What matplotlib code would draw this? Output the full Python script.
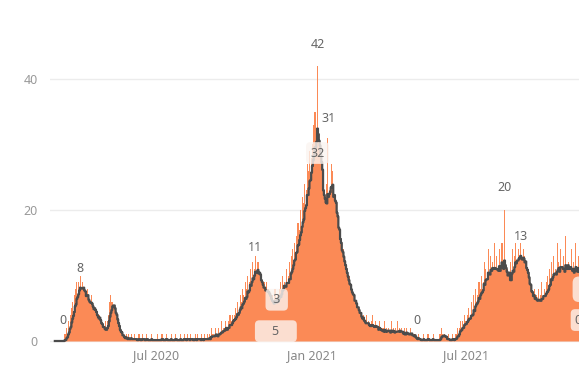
import matplotlib
matplotlib.use("Agg")
import matplotlib.pyplot as plt
import numpy as np
import pandas as pd

plt.rcParams['font.family'] = ['Noto Sans', 'DejaVu Sans']

# daily cases, one list per month (first list starts 4 Mar 2020)
mar_2020 = [0]*12 + [1, 0, 2, 1, 3, 2, 4, 3, 5, 6, 4, 7, 8, 6, 9, 7]
apr_2020 = [9, 8, 10, 7, 6, 9, 8, 6, 7, 5, 8, 6, 4, 6, 5, 7, 4, 5, 3, 5, 4, 3, 4, 2, 3, 4, 2, 1, 2, 1]
may_2020 = [2, 1, 3, 2, 3, 4, 6, 7, 5, 6, 6, 4, 4, 3, 2, 3, 1, 2, 1, 0, 1, 1, 0, 1, 0, 0, 1, 0, 0, 1, 0]
jun_2020 = [0, 1, 0, 0, 0, 1, 0, 0, 0, 0, 1, 0, 0, 0, 1, 0, 0, 0, 0, 1, 0, 0, 0, 0, 0, 1, 0, 0, 0, 0]
jul_2020 = [0, 0, 1, 0, 0, 0, 0, 1, 0, 0, 0, 0, 1, 0, 0, 0, 0, 0, 1, 0, 0, 0, 0, 1, 0, 0, 0, 0, 0, 1, 0]
aug_2020 = [0, 0, 1, 0, 0, 0, 1, 0, 0, 0, 1, 0, 0, 0, 0, 1, 0, 0, 1, 0, 0, 0, 0, 1, 0, 0, 1, 0, 0, 0, 1]
sep_2020 = [0, 1, 0, 2, 1, 0, 1, 0, 2, 1, 1, 0, 2, 1, 1, 3, 1, 2, 1, 2, 3, 2, 1, 3, 2, 4, 2, 3, 4, 3]
oct_2020 = [4, 3, 5, 4, 6, 3, 5, 7, 6, 4, 8, 7, 5, 9, 6, 8, 10, 7, 9, 11, 8, 10, 12, 9, 11, 13, 10, 9, 12, 8, 10]
nov_2020 = [9, 7, 8, 6, 9, 8, 7, 9, 6, 8, 5, 7, 6, 4, 7, 5, 6, 8, 5, 6, 7, 5, 8, 9, 7, 8, 10, 8, 9, 7]
dec_2020 = [9, 11, 8, 10, 12, 9, 13, 11, 14, 12, 15, 13, 16, 14, 18, 15, 17, 20, 16, 22, 19, 21, 24, 20, 23, 27, 22, 26, 29, 25, 28]
jan_2021 = [30, 33, 27, 35, 29, 31, 42, 24, 26, 22, 25, 21, 23, 20, 19, 22, 18, 24, 31, 20, 23, 21, 27, 19, 26, 18, 22, 17, 19, 16, 15]
feb_2021 = [14, 16, 12, 13, 11, 14, 10, 9, 12, 8, 9, 7, 10, 6, 8, 7, 5, 7, 6, 4, 6, 5, 3, 5, 4, 3, 4, 2]
mar_2021 = [3, 4, 2, 3, 1, 4, 2, 3, 2, 1, 3, 2, 4, 1, 2, 3, 1, 2, 2, 1, 3, 1, 2, 0, 2, 1, 3, 1, 2, 1, 1]
apr_2021 = [2, 1, 1, 3, 1, 2, 0, 1, 2, 1, 3, 1, 2, 1, 0, 2, 1, 1, 2, 0, 1, 2, 1, 1, 0, 2, 1, 1, 0, 1]
may_2021 = [0, 1, 0, 0, 0, 1, 0, 0, 0, 0, 0, 1, 0, 0, 0, 0, 1, 0, 0, 0, 0, 0, 1, 0, 0, 0, 0, 0, 0, 1, 0]
jun_2021 = [1, 2, 1, 0, 1, 0, 0, 0, 0, 1, 0, 0, 0, 0, 1, 0, 0, 1, 0, 1, 2, 1, 2, 3, 2, 1, 3, 2, 4, 3]
jul_2021 = [3, 4, 2, 5, 3, 4, 6, 3, 5, 7, 4, 8, 6, 7, 5, 9, 6, 8, 10, 7, 9, 12, 8, 11, 9, 10, 14, 8, 11, 13, 10]
aug_2021 = [12, 9, 15, 8, 10, 13, 9, 11, 14, 10, 12, 15, 8, 7, 20, 9, 7, 8, 11, 8, 10, 12, 9, 14, 11, 10, 13, 15, 11, 12, 14]
sep_2021 = [13, 11, 15, 12, 10, 14, 13, 9, 12, 8, 10, 7, 9, 6, 8, 5, 7, 6, 8, 5, 7, 6, 4, 8, 6, 7, 5, 9, 6, 7]
oct_2021 = [8, 6, 9, 7, 10, 8, 11, 9, 12, 8, 10, 13, 9, 11, 8, 15, 10, 12, 9, 14, 11, 8, 13, 10, 9, 16, 11, 10, 12, 9, 11]
nov_2021 = [10, 14, 9, 12, 8, 11, 15, 9, 10, 13, 8, 11, 9, 12, 10]

months = [mar_2020, apr_2020, may_2020, jun_2020, jul_2020, aug_2020, sep_2020, oct_2020,
          nov_2020, dec_2020, jan_2021, feb_2021, mar_2021, apr_2021, may_2021, jun_2021,
          jul_2021, aug_2021, sep_2021, oct_2021, nov_2021]
cases = [v for m in months for v in m]
dates = pd.date_range('2020-03-04', periods=len(cases), freq='D')

s = pd.Series(cases, index=dates)
avg = s.rolling(7, min_periods=1).mean()

# data labels: (date, y position, text, boxed)
labels = [
    ('2020-03-13', 3.2, '0', False),
    ('2020-04-02', 11.1, '8', False),
    ('2020-10-25', 14.2, '11', False),
    ('2020-11-20', 6.3, ' 3 ', True),
    ('2020-11-19', 1.5, '    5    ', True),
    ('2021-01-07', 45.2, '42', False),
    ('2021-01-20', 34.0, '31', False),
    ('2021-01-07', 28.7, '32', True),
    ('2021-05-04', 3.2, '0', False),
    ('2021-08-15', 23.4, '20', False),
    ('2021-09-03', 16.0, '13', False),
    ('2021-11-14', 3.2, '0  ', True),
]

orange = '#fb8a56'
fig = plt.figure(figsize=(5.79, 3.70), dpi=100)
ax = fig.add_axes([50/579, 25/370, 529/579, 345/370])

ax.bar(dates, cases, width=1.3, color=orange, linewidth=0, zorder=2)
ax.fill_between(dates, 0, avg.values, step='mid', color=orange, linewidth=0, zorder=2)
ax.plot(dates, avg.values, drawstyle='steps-mid', color='#4b4b4b', lw=1.6, zorder=3)

for d, y, t, boxed in labels:
    kw = {}
    if boxed:
        kw['bbox'] = dict(boxstyle='round,pad=0.35', fc='#fbf4f0', ec='none', alpha=0.8)
    ax.text(pd.Timestamp(d), y, t, ha='center', va='center', fontsize=9,
            color='#666666', zorder=4, **kw)

# label box cut at the right edge
ax.text(pd.Timestamp('2021-11-20'), 7.9, '     ', ha='center', va='center', fontsize=9,
        zorder=4, bbox=dict(boxstyle='round,pad=0.5', fc='#fbf4f0', ec='none', alpha=0.8))

jul20 = pd.Timestamp('2020-07-01')
ax.set_xlim(jul20 - pd.Timedelta(days=124.7), jul20 + pd.Timedelta(days=497.6))
ax.set_ylim(-0.61, 52.06)

ax.set_yticks([0, 20, 40])
ax.set_xticks([pd.Timestamp('2020-07-01'), pd.Timestamp('2021-01-01'), pd.Timestamp('2021-07-01')])
ax.set_xticklabels(['Jul 2020', 'Jan 2021', 'Jul 2021'])
ax.tick_params(axis='y', length=0, pad=9, labelsize=9, labelcolor='#999999')
ax.tick_params(axis='x', length=0, pad=3, labelsize=9, labelcolor='#888888')
ax.grid(axis='y', color='#ececec', lw=1)
ax.set_axisbelow(True)
for sp in ax.spines.values():
    sp.set_visible(False)

plt.savefig('out.png', dpi=100)
